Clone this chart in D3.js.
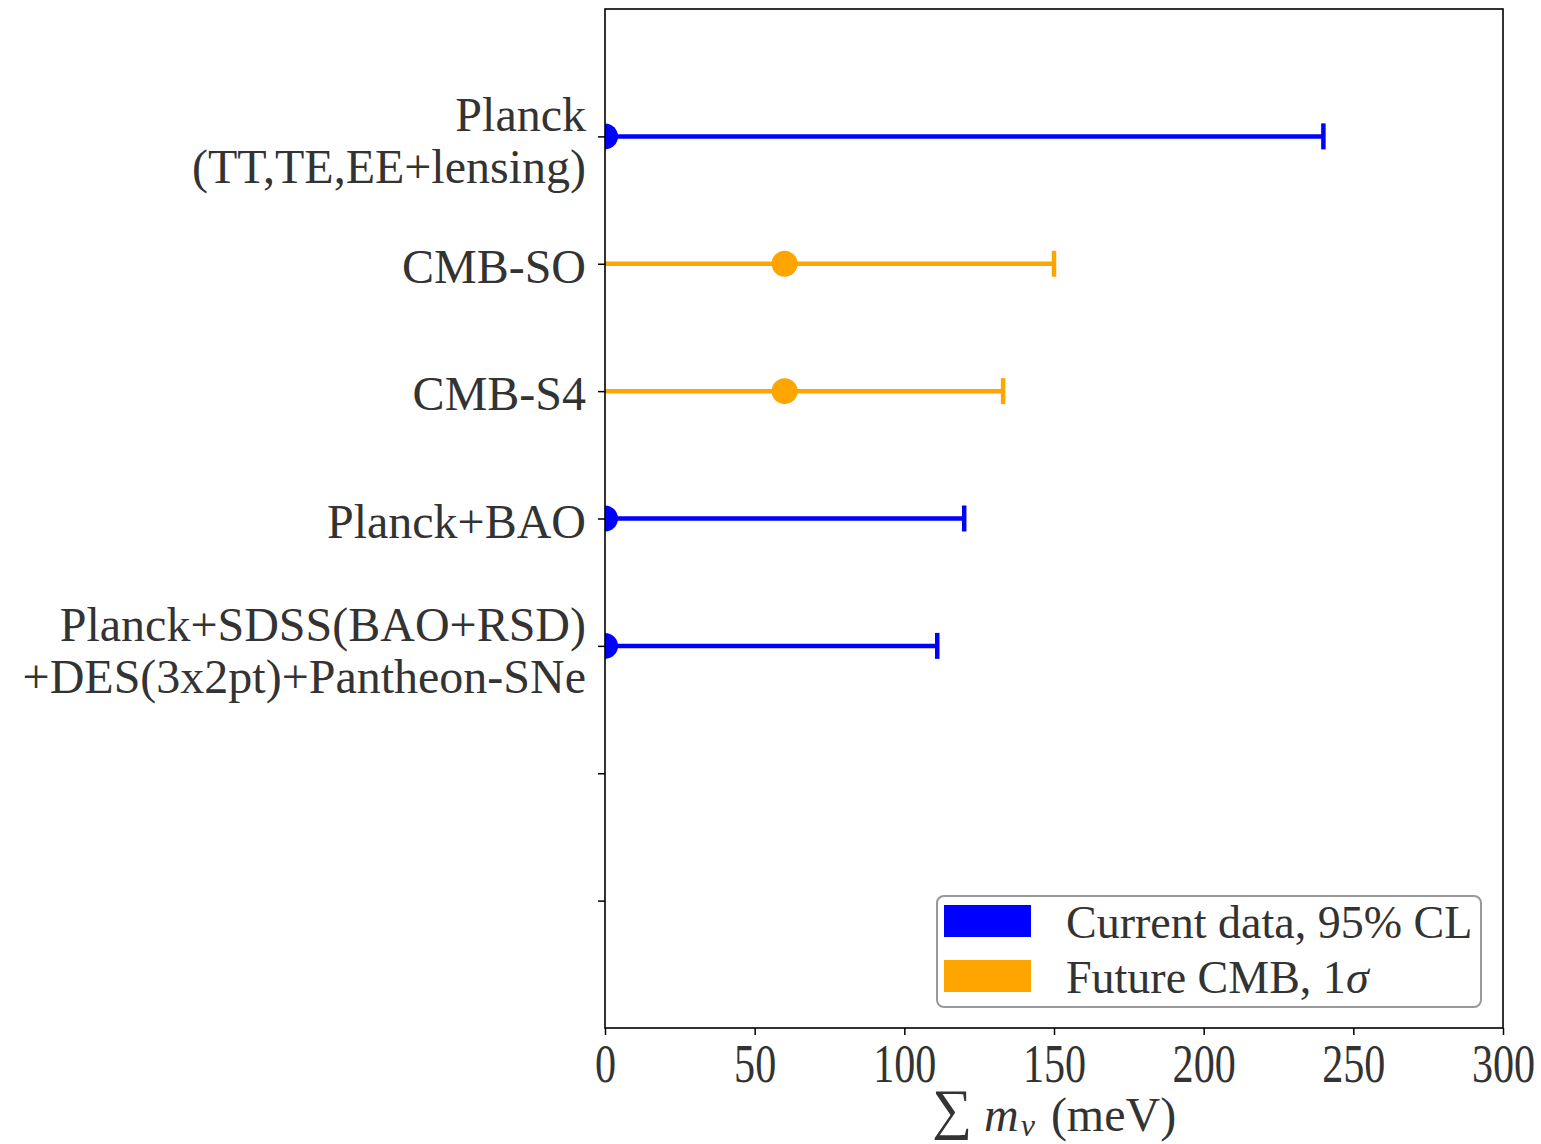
<!DOCTYPE html>
<html><head><meta charset="utf-8">
<script src="https://cdn.jsdelivr.net/npm/d3@7"></script>
<style>body{margin:0;background:#fff}svg{display:block}</style>
</head><body>
<script>
// ---- data ----
const categories = [
  ["Planck", "(TT,TE,EE+lensing)"],
  ["CMB-SO"],
  ["CMB-S4"],
  ["Planck+BAO"],
  ["Planck+SDSS(BAO+RSD)", "+DES(3x2pt)+Pantheon-SNe"]
];
const centers = [0, 60, 60, 0, 0];
const errors = [240, 90, 73, 120, 111];
const groups = ["current", "future", "future", "current", "current"];
const xTicks = [0, 50, 100, 150, 200, 250, 300];
const yTickPositions = [0, 1, 2, 3, 4, 5, 6];
const legendLabels = ["Current data, 95% CL", "Future CMB, 1"];
const colors = {current: "#0000ff", future: "#ffa500"};

const W = 1541, H = 1144;
const m = {left: 605, right: 1503, top: 9, bottom: 1028};
const svg = d3.select("body").append("svg").attr("width", W).attr("height", H);
const x = d3.scaleLinear().domain([0, 300]).range([m.left, m.right]);
const y = d3.scaleLinear().domain([-1, 7]).range([m.top, m.bottom]);
const font = "'Liberation Serif', 'DejaVu Serif', serif";
const textCol = "#333";

svg.append("defs").append("clipPath").attr("id", "clip")
  .append("rect").attr("x", m.left).attr("y", m.top)
  .attr("width", m.right - m.left).attr("height", m.bottom - m.top);

const plot = svg.append("g").attr("clip-path", "url(#clip)");
categories.forEach((c, i) => {
  const col = colors[groups[i]];
  const yy = y(i);
  const lo = x(centers[i] - errors[i]), hi = x(centers[i] + errors[i]);
  plot.append("line").attr("x1", lo).attr("x2", hi).attr("y1", yy).attr("y2", yy)
    .attr("stroke", col).attr("stroke-width", 4.5);
  [lo, hi].forEach(cx => plot.append("line").attr("x1", cx).attr("x2", cx)
    .attr("y1", yy - 13).attr("y2", yy + 13).attr("stroke", col).attr("stroke-width", 4.5));
  plot.append("circle").attr("cx", x(centers[i])).attr("cy", yy).attr("r", 13).attr("fill", col);
});

// frame
svg.append("rect").attr("x", m.left).attr("y", m.top)
  .attr("width", m.right - m.left).attr("height", m.bottom - m.top)
  .attr("fill", "none").attr("stroke", "#000").attr("stroke-width", 1.6);

// x axis
const xa = svg.append("g").attr("transform", `translate(0,${m.bottom})`)
  .call(d3.axisBottom(x).tickValues(xTicks).tickSize(7).tickFormat(d3.format("d")));
xa.select(".domain").remove();
xa.selectAll(".tick line").attr("stroke", "#000").attr("stroke-width", 1.5);
xa.selectAll(".tick text").attr("font-family", font).attr("font-size", 54)
  .attr("fill", textCol).attr("y", 15).attr("dy", "0.72em")
  .attr("transform", "scale(0.78,1)");

// y axis
const ya = svg.append("g").attr("transform", `translate(${m.left},0)`)
  .call(d3.axisLeft(y).tickValues(yTickPositions).tickSize(7).tickFormat(""));
ya.select(".domain").remove();
ya.selectAll(".tick line").attr("stroke", "#000").attr("stroke-width", 1.5);

categories.forEach((c, i) => {
  const yy = y(i);
  const base = c.length === 1 ? [yy + 19] : [yy - 5, yy + 47];
  c.forEach((line, k) => {
    svg.append("text").attr("x", 586).attr("y", base[k]).attr("text-anchor", "end")
      .attr("font-family", font).attr("font-size", 48).attr("fill", textCol).text(line);
  });
});

// x label
svg.append("text").attr("x", 932).attr("y", 1128).attr("font-family", font)
  .attr("font-size", 56).attr("fill", textCol).text("∑");
const xl = svg.append("text").attr("x", 984).attr("y", 1131)
  .attr("font-family", font).attr("font-size", 48).attr("fill", textCol);
xl.append("tspan").attr("font-style", "italic").text("m");
xl.append("tspan").attr("font-style", "italic").attr("font-size", 32).attr("dx", 2).attr("dy", 5).text("ν");
xl.append("tspan").attr("dx", 16).attr("dy", -5).text("(meV)");

// legend
const lg = svg.append("g");
lg.append("rect").attr("x", 937).attr("y", 896).attr("width", 544).attr("height", 111)
  .attr("rx", 7).attr("fill", "#fff").attr("stroke", "#999").attr("stroke-width", 2);
["current", "future"].forEach((g, k) => {
  lg.append("rect").attr("x", 944).attr("y", 905 + k * 55).attr("width", 87).attr("height", 32)
    .attr("fill", colors[g]);
  const t = lg.append("text").attr("x", 1066).attr("y", 938 + k * 55)
    .attr("font-family", font).attr("font-size", 46).attr("fill", textCol).text(legendLabels[k]);
  if (k === 1) t.append("tspan").attr("font-style", "italic").text("σ");
});
</script>
</body></html>
